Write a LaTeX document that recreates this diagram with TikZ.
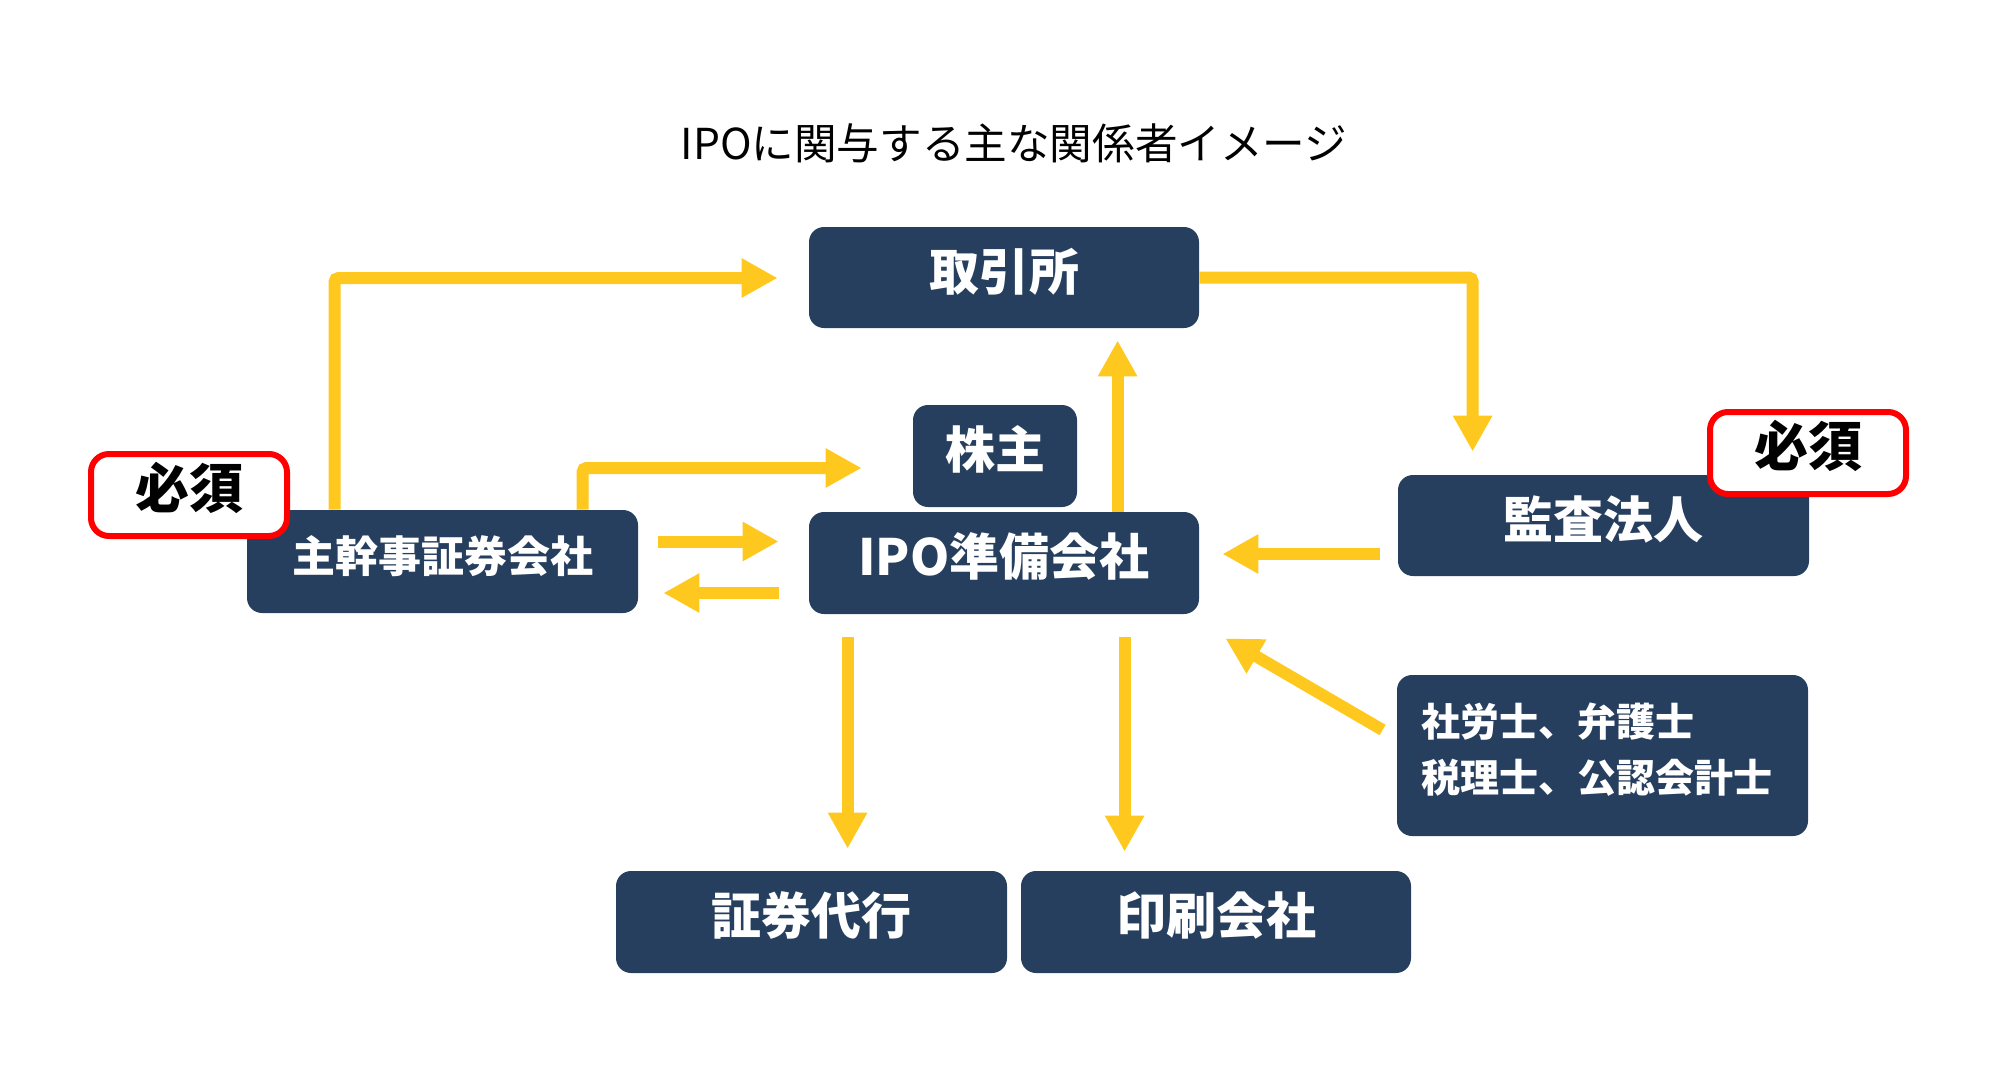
\documentclass[tikz,border=0pt]{standalone}
\usepackage{fontspec}
\newfontfamily\jp{Noto Sans CJK JP}
\usetikzlibrary{arrows.meta,calc}
\definecolor{navy}{HTML}{273F5F}
\definecolor{gold}{HTML}{FFC81E}
\definecolor{hred}{HTML}{FF0000}
\begin{document}
\begin{tikzpicture}[x=0.5pt,y=-0.5pt,
  box/.style={fill=navy, rounded corners=7.5pt, text=white, inner sep=0pt},
  bigtext/.style={font=\jp\bfseries\fontsize{25pt}{30pt}\selectfont, text height=17.5pt, text depth=5pt},
  midtext/.style={font=\jp\bfseries\fontsize{21.5pt}{26pt}\selectfont, text height=15pt, text depth=4.3pt},
  protext/.style={font=\jp\bfseries\fontsize{19.5pt}{28pt}\selectfont, align=left, text width=181.5pt, inner xsep=12pt, text depth=36pt},
  hissubox/.style={draw=hred, line width=3pt, fill=white, rounded corners=9pt, inner sep=0pt,
    minimum width=98pt, minimum height=41pt, text=black,
    font=\jp\bfseries\fontsize{27pt}{32pt}\selectfont, text height=19pt, text depth=5.4pt},
  arr/.style={draw=gold, line width=6pt, -{Triangle[length=18pt,width=18.5pt]}, rounded corners=2pt}
]
\useasboundingbox (0,0) rectangle (2008,1076);

\node[font=\jp\fontsize{21.3pt}{25pt}\selectfont] (title) at (1014,143) {IPOに関与する主な関係者イメージ};

\node[box, bigtext, minimum width=195pt, minimum height=50.5pt] (exch) at (1004,277.5) {取引所};
\node[box, bigtext, minimum width=82pt, minimum height=51pt] (kabu) at (995,456) {株主};
\node[box, bigtext, minimum width=195pt, minimum height=51pt] (ipo) at (1004,563) {IPO準備会社};
\node[box, midtext, minimum width=195.5pt, minimum height=51.5pt] (shukan) at (442.5,561.5) {主幹事証券会社};
\node[box, bigtext, minimum width=205.5pt, minimum height=50.5pt] (audit) at (1603.5,525.5) {監査法人};
\node[box, protext, minimum height=80.5pt] (pro) at (1602.5,755.5) {社労士、弁護士\\税理士、公認会計士};
\node[box, bigtext, minimum width=195.5pt, minimum height=51pt] (shoken) at (811.5,922) {証券代行};
\node[box, bigtext, minimum width=195pt, minimum height=51pt] (insatsu) at (1216,922) {印刷会社};

\draw[arr] ($(shukan.north west)+(88,0)$) |- ($(exch.west)+(-31,0.5)$);
\draw[arr] ($(shukan.north west)+(336,0)$) |- ($(kabu.west)+(-51,12)$);
\draw[arr] ($(shukan.east)+(20,-20)$) -- ($(ipo.west)+(-30,-21.5)$);
\draw[arr] ($(ipo.west)+(-30,30)$) -- ($(shukan.east)+(25,31.5)$);
\draw[arr] (exch.east) -| ($(audit.north west)+(75,-23)$);
\draw[arr] ($(ipo.north west)+(309,0)$) -- ($(exch.south west)+(309,12)$);
\draw[arr] ($(audit.west)+(-18,28.5)$) -- ($(ipo.east)+(23,-9)$);
\draw[arr] ($(pro.west)+(-14,-25.5)$) -- ($(ipo.south east)+(26,24)$);
\draw[arr] ($(ipo.south west)+(39,23)$) -- ($(shoken.north west)+(232,-22)$);
\draw[arr] ($(ipo.south west)+(316,23)$) -- ($(insatsu.north west)+(104,-19)$);

\node[hissubox] (hissuL) at (189,495) {必須};
\node[hissubox] (hissuR) at (1808,453) {必須};
\end{tikzpicture}
\end{document}
